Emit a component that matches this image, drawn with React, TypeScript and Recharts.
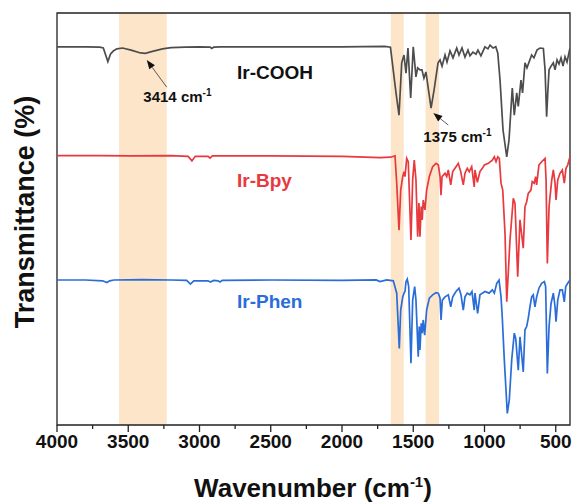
import {
  LineChart,
  Line,
  XAxis,
  YAxis,
  ReferenceArea,
  ReferenceLine,
  ReferenceDot,
} from "recharts";

// [wavenumber (cm-1), transmittance (offset, a.u.)]
const irCOOH: [number, number][] = [
  [4000, 91.8], [3800, 91.8], [3700, 91.7], [3675, 91.5], [3643, 88.2], [3625, 90.0],
  [3605, 90.8], [3580, 91.3], [3540, 91.5], [3480, 91.0], [3414, 90.3], [3380, 90.2],
  [3330, 90.7], [3260, 91.3], [3200, 91.6], [3100, 91.7], [3000, 91.8], [2925, 91.7],
  [2915, 91.4], [2900, 91.7], [2850, 91.8], [2400, 91.8], [2000, 91.8], [1700, 91.9],
  [1660, 91.7], [1621, 80.6], [1600, 75.2], [1581, 87.9], [1565, 89.8], [1551, 85.4],
  [1537, 91.5], [1518, 79.4], [1500, 91.8], [1481, 84.5], [1469, 86.7], [1453, 86.2],
  [1439, 86.2], [1425, 84.2], [1411, 85.7], [1375, 76.9], [1354, 81.3], [1326, 87.9],
  [1312, 88.6], [1298, 87.1], [1277, 89.8], [1263, 88.1], [1242, 90.8], [1221, 89.1],
  [1195, 91.5], [1179, 89.8], [1158, 91.5], [1137, 89.3], [1116, 91.0], [1102, 89.6],
  [1081, 90.5], [1060, 90.0], [1046, 91.0], [1025, 89.6], [997, 91.8], [976, 91.3],
  [961, 92.2], [940, 91.5], [921, 91.8], [907, 90.3], [891, 83.7], [870, 71.6],
  [844, 65.1], [828, 69.2], [805, 81.8], [791, 75.2], [774, 80.6], [763, 77.3],
  [744, 83.7], [733, 80.6], [716, 87.9], [702, 86.7], [669, 89.8], [653, 89.1],
  [632, 91.0], [611, 91.5], [587, 91.4], [575, 86.2], [564, 74.8], [555, 81.3],
  [547, 86.2], [533, 87.1], [517, 87.9], [505, 86.2], [491, 88.6], [477, 87.6],
  [463, 89.1], [449, 87.1], [435, 89.4], [421, 88.1], [400, 91.5],
];

const irBpy: [number, number][] = [
  [4000, 65.4], [3700, 65.4], [3500, 65.3], [3200, 65.4], [3080, 65.2], [3053, 64.1],
  [3030, 65.2], [2940, 65.2], [2926, 64.8], [2910, 65.3], [2500, 65.3], [2000, 65.2],
  [1733, 64.9], [1660, 65.0], [1628, 65.3], [1616, 58.7], [1600, 47.3], [1588, 57.0],
  [1574, 60.3], [1565, 61.5], [1558, 60.3], [1546, 64.7], [1535, 63.9], [1516, 44.9],
  [1504, 59.5], [1493, 64.3], [1481, 59.5], [1469, 45.7], [1460, 53.9], [1453, 45.7],
  [1444, 53.0], [1437, 49.8], [1430, 54.6], [1418, 52.2], [1406, 57.0], [1387, 60.3],
  [1364, 62.7], [1340, 63.5], [1324, 63.1], [1312, 60.3], [1305, 55.8], [1298, 60.3],
  [1277, 61.1], [1265, 60.3], [1254, 61.9], [1237, 58.3], [1223, 61.5], [1200, 62.7],
  [1184, 63.5], [1167, 61.5], [1149, 58.3], [1137, 61.1], [1121, 62.3], [1107, 61.5],
  [1090, 62.7], [1072, 57.8], [1067, 61.9], [1050, 58.9], [1032, 61.5], [1015, 62.3],
  [1001, 63.1], [973, 63.5], [945, 64.3], [931, 65.1], [919, 63.9], [907, 65.1],
  [896, 64.7], [884, 58.7], [872, 57.0], [856, 46.5], [844, 29.9], [821, 44.9],
  [798, 55.0], [786, 53.8], [767, 36.0], [751, 49.8], [728, 42.9], [716, 53.0],
  [704, 54.2], [693, 56.2], [674, 57.0], [665, 59.1], [651, 58.7], [641, 60.3],
  [634, 58.3], [618, 63.1], [599, 63.9], [575, 64.7], [568, 59.5], [559, 39.2],
  [547, 53.0], [528, 59.5], [517, 61.9], [505, 58.7], [498, 54.6], [486, 59.5],
  [470, 61.1], [454, 61.9], [440, 58.7], [428, 62.3], [416, 63.1], [400, 65.1],
];

const irPhen: [number, number][] = [
  [4000, 35.2], [3800, 35.2], [3680, 35.0], [3650, 34.6], [3630, 35.0], [3600, 35.2],
  [3400, 35.3], [3200, 35.2], [3090, 35.1], [3064, 34.2], [3040, 35.0], [2940, 35.0],
  [2924, 34.7], [2900, 35.1], [2870, 35.0], [2856, 34.7], [2840, 35.1], [2500, 35.2],
  [2000, 35.1], [1760, 35.2], [1733, 34.8], [1686, 35.2], [1640, 35.0], [1616, 32.0],
  [1598, 18.6], [1588, 27.9], [1574, 31.1], [1565, 32.0], [1558, 32.4], [1551, 34.8],
  [1542, 35.4], [1532, 33.6], [1516, 15.0], [1504, 30.3], [1490, 33.6], [1481, 30.3],
  [1465, 16.6], [1458, 23.9], [1453, 18.2], [1444, 24.7], [1437, 22.3], [1430, 25.5],
  [1420, 21.8], [1406, 27.9], [1387, 30.8], [1364, 31.6], [1340, 32.1], [1324, 32.0],
  [1312, 30.8], [1305, 25.5], [1296, 30.3], [1277, 31.1], [1254, 31.6], [1237, 28.7],
  [1223, 31.1], [1200, 32.4], [1179, 33.2], [1165, 31.6], [1149, 27.9], [1137, 31.1],
  [1121, 32.0], [1102, 31.6], [1088, 32.4], [1072, 27.9], [1067, 32.0], [1048, 27.1],
  [1032, 31.6], [1015, 32.0], [997, 32.4], [968, 32.0], [945, 32.8], [931, 32.0],
  [914, 34.4], [898, 35.2], [884, 31.1], [875, 25.9], [861, 15.8], [840, 2.8],
  [826, 6.1], [809, 15.8], [791, 22.3], [781, 21.0], [763, 13.3], [751, 21.4],
  [728, 12.9], [716, 23.1], [704, 23.9], [693, 25.9], [681, 28.7], [669, 31.1],
  [658, 31.6], [646, 28.7], [634, 31.1], [618, 33.2], [599, 34.4], [580, 34.8],
  [571, 33.6], [559, 12.5], [547, 23.9], [533, 29.5], [517, 32.0], [505, 28.7],
  [498, 25.1], [486, 30.3], [470, 32.8], [454, 32.8], [440, 29.9], [430, 33.6],
  [416, 34.4], [400, 35.2],
];

// highlighted bands [from, to] in cm-1
const bands: [number, number][] = [
  [3565, 3230],
  [1658, 1567],
  [1413, 1319],
];

const xTicks = [
  4000, 3750, 3500, 3250, 3000, 2750, 2500, 2250, 2000, 1750, 1500, 1250, 1000, 750, 500,
];

const FONT = "Arial, 'Liberation Sans', sans-serif";
const toRows = (arr: [number, number][]) => arr.map(([wn, t]) => ({ wn, t }));

function WnTick(props: any) {
  const { x, y, payload } = props;
  const major = payload.value % 500 === 0;
  return (
    <g>
      <line x1={x} y1={y} x2={x} y2={y + (major ? 7 : 4)} stroke="#222" strokeWidth={1.3} />
      {major && (
        <text x={x} y={y + 23} textAnchor="middle" fontFamily={FONT} fontWeight="bold" fontSize={19} fill="#111">
          {payload.value}
        </text>
      )}
    </g>
  );
}

function Arrow(p: any) {
  const { x1, y1, x2, y2 } = p;
  const a = Math.atan2(y2 - y1, x2 - x1);
  const L = 9;
  const W = 3.5;
  const bx = x2 - L * Math.cos(a);
  const by = y2 - L * Math.sin(a);
  const pts = `${x2},${y2} ${bx - W * Math.sin(a)},${by + W * Math.cos(a)} ${bx + W * Math.sin(a)},${by - W * Math.cos(a)}`;
  return (
    <g>
      <line x1={x1} y1={y1} x2={bx} y2={by} stroke="#333" strokeWidth={0.8} />
      <polygon points={pts} fill="#111" />
    </g>
  );
}

const nameLabel = (text: string, color: string) => (p: any) => (
  <text x={p.cx} y={p.cy} fontFamily={FONT} fontWeight="bold" fontSize={19} fill={color}>
    {text}
  </text>
);

const peakLabel = (text: string) => (p: any) => (
  <text x={p.cx} y={p.cy} fontFamily={FONT} fontWeight="bold" fontSize={15} fill="#111">
    {text} cm
    <tspan fontSize={10} dy={-6}>-1</tspan>
  </text>
);

export default function App() {
  return (
    <div style={{ position: "absolute", left: 0, top: 0, background: "#fff" }}>
      <LineChart width={578} height={504} margin={{ top: 13, right: 8, bottom: 0, left: 0 }}>
        {bands.map(([a, b], i) => (
          <ReferenceArea key={i} x1={a} x2={b} y1={0} y2={100} fill="#fde5c9" fillOpacity={1} stroke="none" />
        ))}
        <XAxis
          dataKey="wn"
          type="number"
          domain={[400, 4000]}
          reversed
          ticks={xTicks}
          interval={0}
          height={79}
          axisLine={false}
          tickLine={false}
          tickSize={0}
          tickMargin={0}
          tick={<WnTick />}
          allowDataOverflow
          label={() => (
            <text x={313} y={497} textAnchor="middle" fontFamily={FONT} fontWeight="bold" fontSize={26} fill="#111">
              Wavenumber (cm
              <tspan fontSize={15} dy={-10}>-1</tspan>
              <tspan dy={10}>)</tspan>
            </text>
          )}
        />
        <YAxis
          type="number"
          domain={[0, 100]}
          width={57}
          tick={false}
          tickLine={false}
          axisLine={false}
          label={() => (
            <text
              x={25}
              y={212}
              transform="rotate(-90 25 212)"
              textAnchor="middle"
              dominantBaseline="central"
              fontFamily={FONT}
              fontWeight="bold"
              fontSize={27}
              fill="#111"
            >
              Transmittance (%)
            </text>
          )}
        />
        <Line data={toRows(irCOOH)} dataKey="t" stroke="#4d4d4d" strokeWidth={1.7} dot={false} isAnimationActive={false} />
        <Line data={toRows(irBpy)} dataKey="t" stroke="#e8393e" strokeWidth={1.7} dot={false} isAnimationActive={false} />
        <Line data={toRows(irPhen)} dataKey="t" stroke="#2a6dd9" strokeWidth={1.7} dot={false} isAnimationActive={false} />
        <ReferenceArea x1={4000} x2={400} y1={0} y2={100} fill="none" stroke="#222" strokeWidth={1.3} />
        <ReferenceLine segment={[{ x: 3230, y: 82 }, { x: 3370, y: 88.6 }]} shape={Arrow} />
        <ReferenceLine segment={[{ x: 1254, y: 72.8 }, { x: 1359, y: 75.7 }]} shape={Arrow} />
        <ReferenceDot x={2737} y={84.1} r={0} shape={nameLabel("Ir-COOH", "#111")} />
        <ReferenceDot x={2737} y={57.8} r={0} shape={nameLabel("Ir-Bpy", "#e8393e")} />
        <ReferenceDot x={2737} y={28.3} r={0} shape={nameLabel("Ir-Phen", "#2a6dd9")} />
        <ReferenceDot x={3394} y={78.5} r={0} shape={peakLabel("3414")} />
        <ReferenceDot x={1429} y={68.8} r={0} shape={peakLabel("1375")} />
      </LineChart>
    </div>
  );
}
